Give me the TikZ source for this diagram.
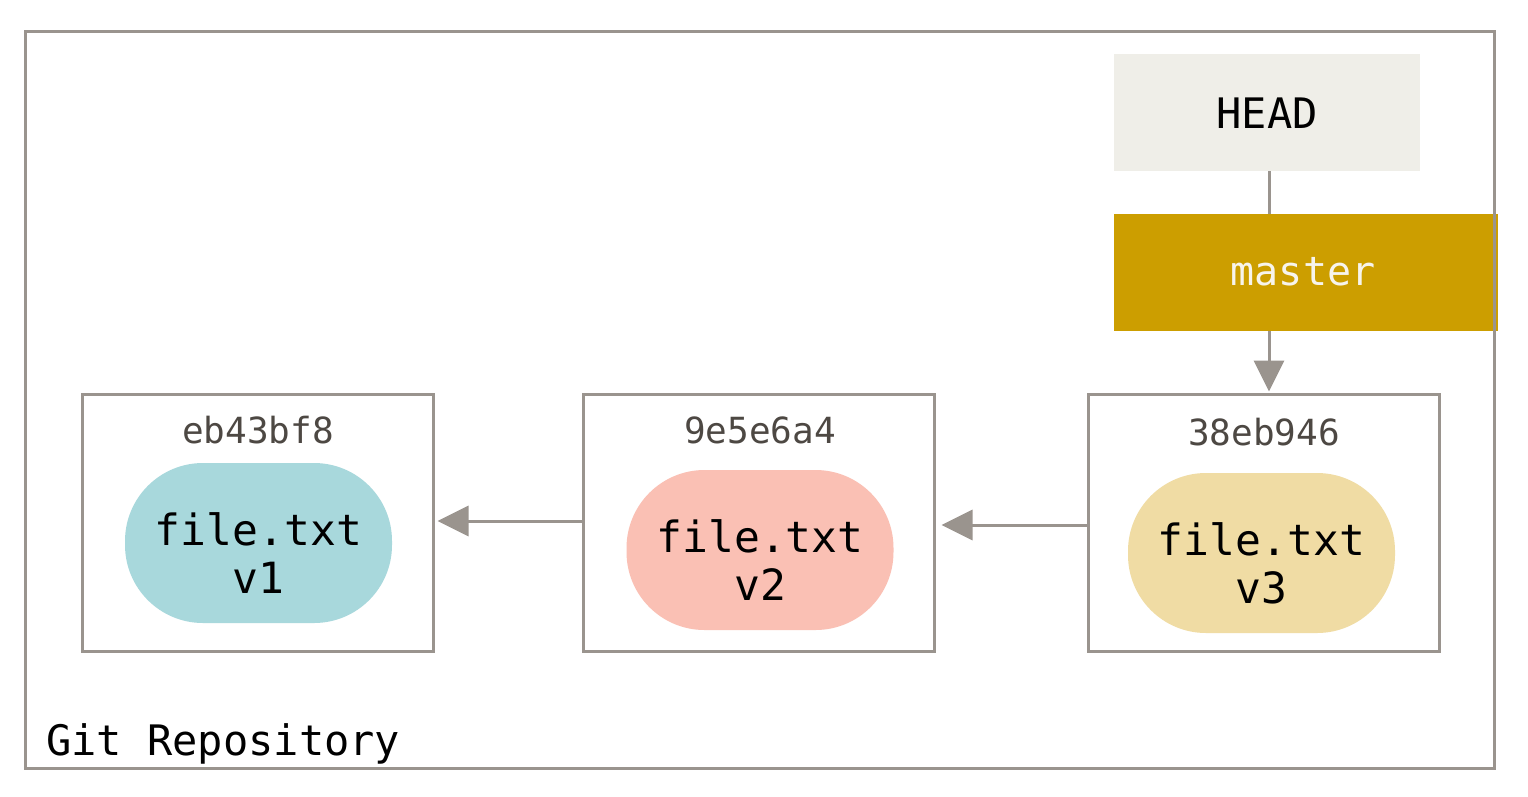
\documentclass[tikz,border=0pt]{standalone}
\usepackage{fontspec}
\setmonofont{DejaVu Sans Mono}
\usetikzlibrary{arrows.meta}
\definecolor{linegray}{HTML}{9A948E}
\definecolor{headfill}{HTML}{EFEEE8}
\definecolor{masterfill}{HTML}{CC9E00}
\definecolor{blobA}{HTML}{A8D8DC}
\definecolor{blobB}{HTML}{FAC0B4}
\definecolor{blobC}{HTML}{F0DCA4}
\definecolor{hashtext}{HTML}{4D4843}
\definecolor{mastertext}{HTML}{F7F4EC}
\begin{document}
\begin{tikzpicture}[x=1pt,y=-1pt,
  commitbox/.style={draw=linegray,line width=3pt,fill=white,rectangle,minimum width=351pt,minimum height=257pt,inner sep=0pt},
  blob/.style={rectangle,rounded corners=78pt,minimum width=267pt,minimum height=160pt,inner sep=0pt},
  blobtext/.style={inner sep=0pt,align=center,font=\fontsize{43}{48}\selectfont\ttfamily,text=black},
  hashlabel/.style={anchor=base,inner sep=0pt,font=\fontsize{36}{40}\selectfont\ttfamily,text=hashtext},
  conn/.style={draw=linegray,line width=3pt},
  connarrow/.style={conn,-{Triangle[length=31pt,width=30pt]},linegray},
  refbox/.style={rectangle,minimum height=117pt,inner sep=0pt}
]
\useasboundingbox (0,0) rectangle (1528,796);
% frame
\node[draw=none,fill=white,minimum width=1468pt,minimum height=736pt,inner sep=0pt] (frame) at (760,400) {};
% HEAD and master
\node[refbox,fill=headfill,minimum width=306pt] (head) at (1267,112.5) {};
\node[anchor=base,inner sep=0pt,font=\fontsize{42}{46}\selectfont\ttfamily,text=black] (headtxt) at (1267,128) {HEAD};
\node[refbox,fill=masterfill,minimum width=384pt] (master) at (1306,272.5) {};
\node[anchor=base,inner sep=0pt,font=\fontsize{40}{44}\selectfont\ttfamily,text=mastertext] (mastertxt) at (1303,285) {master};
% commits
\node[commitbox] (c1) at (257.5,522.5) {};
\node[commitbox] (c2) at (758.5,522.5) {};
\node[commitbox] (c3) at (1263.5,522.5) {};
\node[hashlabel] (h1) at (258,443) {eb43bf8};
\node[hashlabel] (h2) at (760,443) {9e5e6a4};
\node[hashlabel] (h3) at (1264,445) {38eb946};
\node[blob,fill=blobA] (b1) at (258.5,543) {};
\node[blob,fill=blobB] (b2) at (760,550) {};
\node[blob,fill=blobC] (b3) at (1261.5,553) {};
\node[blobtext] (t1) at ([yshift=-10pt]b1.center) {file.txt\\v1};
\node[blobtext] (t2) at ([yshift=-10pt]b2.center) {file.txt\\v2};
\node[blobtext] (t3) at ([yshift=-10pt]b3.center) {file.txt\\v3};
% connectors
\draw[conn] (head.south -| 1269,0) -- (master.north -| 1269,0);
\coordinate (mbot) at (1269,331);
\draw[connarrow] (mbot) -- ([yshift=1pt]mbot |- c3.north);
\coordinate (c2l) at (583,521);
\draw[connarrow] (c2.west |- c2l) -- ([xshift=3pt]c1.east |- c2l);
\coordinate (c3l) at (1088,525);
\draw[connarrow] (c3.west |- c3l) -- ([xshift=6pt]c2.east |- c3l);
% frame outline on top
\draw[linegray,line width=3pt] (frame.north west) rectangle (frame.south east);
\node[anchor=base west,inner sep=0pt,font=\fontsize{42}{46}\selectfont\ttfamily,text=black] (repo) at (46,755) {Git Repository};
\end{tikzpicture}
\end{document}
